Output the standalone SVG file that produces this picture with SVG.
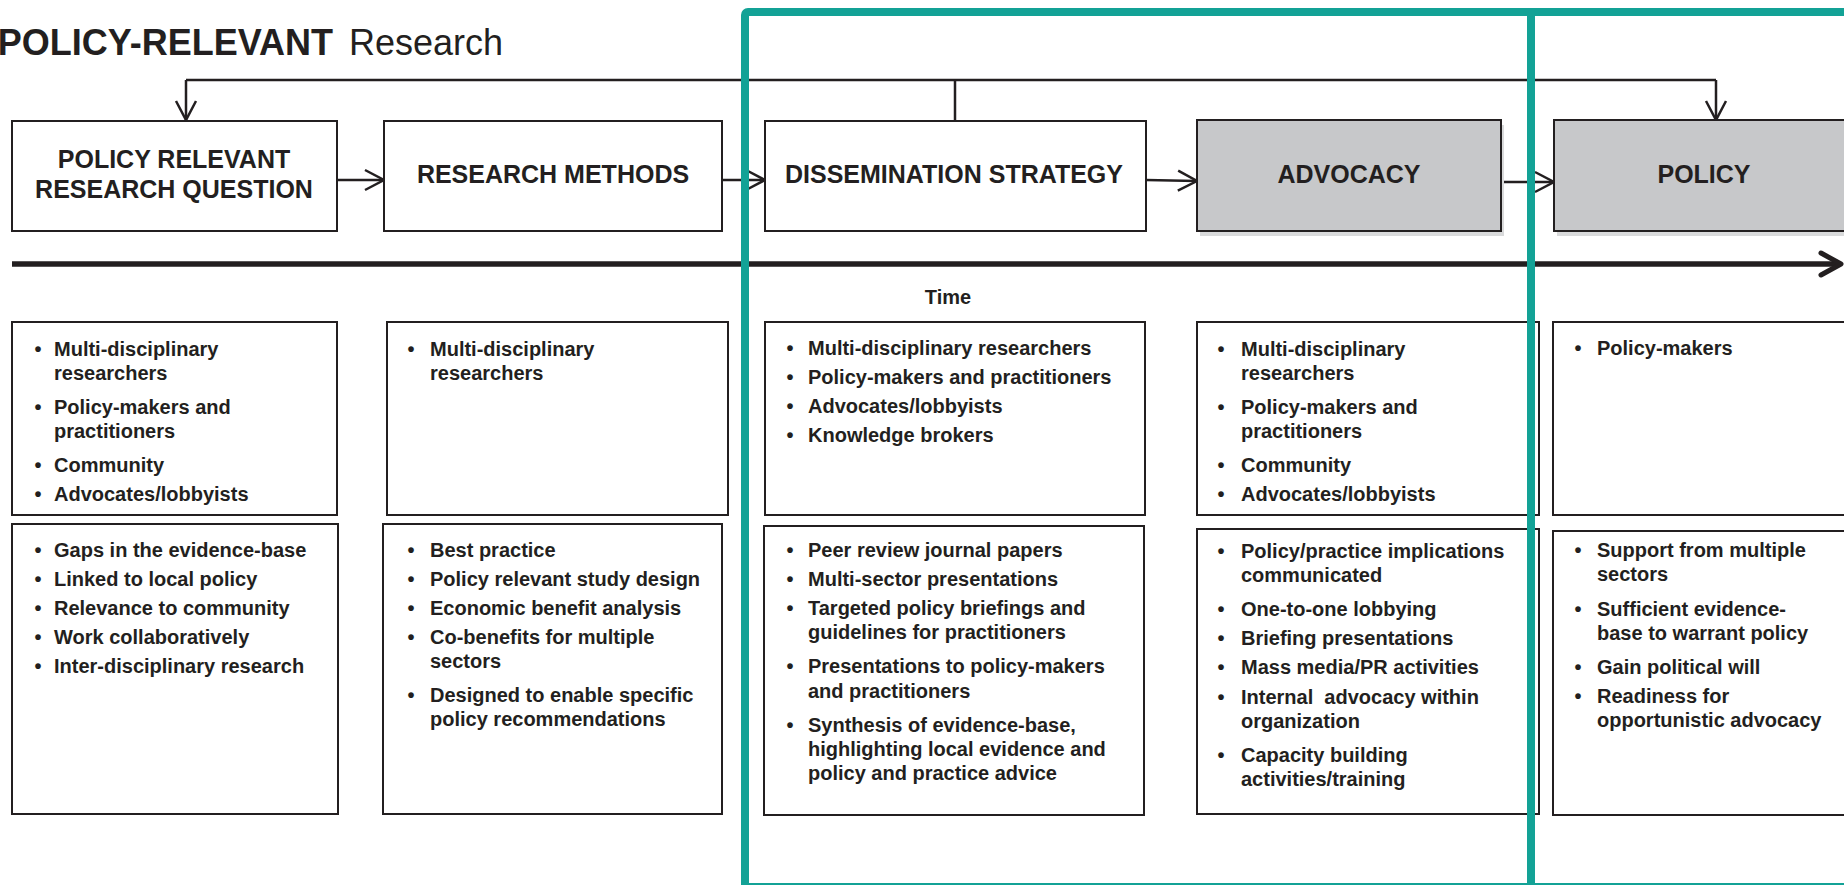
<svg xmlns="http://www.w3.org/2000/svg" width="1844" height="885" viewBox="0 0 1844 885">
<defs>
<style>
.box{fill:#fff;stroke:#231f20;stroke-width:2}
.gbox{fill:#c7c8ca;stroke:#231f20;stroke-width:2}
.shadow{fill:#d9dadb}
.hd{font-family:"Liberation Sans",Arial,sans-serif;font-weight:bold;font-size:25px;fill:#231f20;text-anchor:middle}
.tx{font-family:"Liberation Sans",Arial,sans-serif;font-weight:bold;font-size:20px;fill:#231f20;white-space:pre}
.bl{font-family:"Liberation Sans",Arial,sans-serif;font-weight:bold;font-size:20px;fill:#231f20;text-anchor:middle}
.conn{stroke:#231f20;stroke-width:2.5;fill:none}
.teal{fill:none;stroke:#13a296;stroke-width:8}
</style>
<marker id="ah" markerUnits="userSpaceOnUse" markerWidth="24" markerHeight="24" viewBox="0 0 24 24" refX="21" refY="12" orient="auto">
<path d="M2,2 L21,12 L2,22" fill="none" stroke="#231f20" stroke-width="2.5"/>
</marker>
<marker id="ahb" markerUnits="userSpaceOnUse" markerWidth="30" markerHeight="30" viewBox="0 0 30 30" refX="26" refY="15" orient="auto">
<path d="M6,4 L26,15 L6,26" fill="none" stroke="#231f20" stroke-width="5" stroke-linecap="round" stroke-linejoin="round"/>
</marker>
</defs>
<rect width="1844" height="885" fill="#fff"/>

<g id="title">
<text x="333" y="55" font-family="'Liberation Sans',Arial,sans-serif" font-size="36" font-weight="bold" fill="#231f20" text-anchor="end">POLICY-RELEVANT</text>
<text x="349" y="55" font-family="'Liberation Sans',Arial,sans-serif" font-size="36" fill="#231f20">Research</text>
</g>

<g id="connectors">
<path class="conn" d="M186,80 H1716"/>
<path class="conn" d="M186,80 V120" marker-end="url(#ah)"/>
<path class="conn" d="M1716,80 V120" marker-end="url(#ah)"/>
<path class="conn" d="M955,121 V80"/>
<path class="conn" d="M337,180 H384" marker-end="url(#ah)"/>
<path class="conn" d="M722,180 H765" marker-end="url(#ah)"/>
<path class="conn" d="M1146,180 L1197,181" marker-end="url(#ah)"/>
<path class="conn" d="M1500,182 L1554,182" marker-end="url(#ah)"/>
<path d="M12,264 H1841" stroke="#231f20" stroke-width="5.5" fill="none" marker-end="url(#ahb)"/>
</g>

<g id="time-label">
<text x="948" y="304" class="bl">Time</text>
</g>

<g id="node-question">
<rect class="box" x="12" y="121" width="325" height="110"/>
<text class="hd" x="174" y="168">POLICY RELEVANT</text>
<text class="hd" x="174" y="198">RESEARCH QUESTION</text>
</g>
<g id="node-methods">
<rect class="box" x="384" y="121" width="338" height="110"/>
<text class="hd" x="553" y="183">RESEARCH METHODS</text>
</g>
<g id="node-dissemination">
<rect class="box" x="765" y="121" width="381" height="110"/>
<text class="hd" x="954" y="183">DISSEMINATION STRATEGY</text>
</g>
<g id="node-advocacy">
<rect class="shadow" x="1200" y="125" width="304" height="111"/>
<rect class="gbox" x="1197" y="120" width="304" height="111"/>
<text class="hd" x="1349" y="183">ADVOCACY</text>
</g>
<g id="node-policy">
<rect class="shadow" x="1557" y="125" width="300" height="111"/>
<rect class="gbox" x="1554" y="120" width="300" height="111"/>
<text class="hd" x="1704" y="183">POLICY</text>
</g>

<g id="who-question">
<rect class="box" x="12" y="322" width="325" height="193"/>
<text class="bl" x="38" y="356">•</text><text class="tx" x="54" y="356">Multi-disciplinary</text>
<text class="tx" x="54" y="380">researchers</text>
<text class="bl" x="38" y="414">•</text><text class="tx" x="54" y="414">Policy-makers and</text>
<text class="tx" x="54" y="438">practitioners</text>
<text class="bl" x="38" y="472">•</text><text class="tx" x="54" y="472">Community</text>
<text class="bl" x="38" y="501">•</text><text class="tx" x="54" y="501">Advocates/lobbyists</text>
</g>
<g id="how-question">
<rect class="box" x="12" y="524" width="326" height="290"/>
<text class="bl" x="38" y="557">•</text><text class="tx" x="54" y="557">Gaps in the evidence-base</text>
<text class="bl" x="38" y="586">•</text><text class="tx" x="54" y="586">Linked to local policy</text>
<text class="bl" x="38" y="615">•</text><text class="tx" x="54" y="615">Relevance to community</text>
<text class="bl" x="38" y="644">•</text><text class="tx" x="54" y="644">Work collaboratively</text>
<text class="bl" x="38" y="673">•</text><text class="tx" x="54" y="673">Inter-disciplinary research</text>
</g>

<g id="who-methods">
<rect class="box" x="387" y="322" width="341" height="193"/>
<text class="bl" x="411" y="356">•</text><text class="tx" x="430" y="356">Multi-disciplinary</text>
<text class="tx" x="430" y="380">researchers</text>
</g>
<g id="how-methods">
<rect class="box" x="383" y="524" width="339" height="290"/>
<text class="bl" x="411" y="557">•</text><text class="tx" x="430" y="557">Best practice</text>
<text class="bl" x="411" y="586">•</text><text class="tx" x="430" y="586">Policy relevant study design</text>
<text class="bl" x="411" y="615">•</text><text class="tx" x="430" y="615">Economic benefit analysis</text>
<text class="bl" x="411" y="644">•</text><text class="tx" x="430" y="644">Co-benefits for multiple</text>
<text class="tx" x="430" y="668">sectors</text>
<text class="bl" x="411" y="702">•</text><text class="tx" x="430" y="702">Designed to enable specific</text>
<text class="tx" x="430" y="726">policy recommendations</text>
</g>

<g id="who-dissemination">
<rect class="box" x="765" y="322" width="380" height="193"/>
<text class="bl" x="790" y="355">•</text><text class="tx" x="808" y="355">Multi-disciplinary researchers</text>
<text class="bl" x="790" y="384">•</text><text class="tx" x="808" y="384">Policy-makers and practitioners</text>
<text class="bl" x="790" y="413">•</text><text class="tx" x="808" y="413">Advocates/lobbyists</text>
<text class="bl" x="790" y="442">•</text><text class="tx" x="808" y="442">Knowledge brokers</text>
</g>
<g id="how-dissemination">
<rect class="box" x="764" y="526" width="380" height="289"/>
<text class="bl" x="790" y="557">•</text><text class="tx" x="808" y="557">Peer review journal papers</text>
<text class="bl" x="790" y="586">•</text><text class="tx" x="808" y="586">Multi-sector presentations</text>
<text class="bl" x="790" y="615">•</text><text class="tx" x="808" y="615">Targeted policy briefings and</text>
<text class="tx" x="808" y="639">guidelines for practitioners</text>
<text class="bl" x="790" y="673">•</text><text class="tx" x="808" y="673">Presentations to policy-makers</text>
<text class="tx" x="808" y="698">and practitioners</text>
<text class="bl" x="790" y="732">•</text><text class="tx" x="808" y="732">Synthesis of evidence-base,</text>
<text class="tx" x="808" y="756">highlighting local evidence and</text>
<text class="tx" x="808" y="780">policy and practice advice</text>
</g>

<g id="who-advocacy">
<rect class="box" x="1197" y="322" width="342" height="193"/>
<text class="bl" x="1221" y="356">•</text><text class="tx" x="1241" y="356">Multi-disciplinary</text>
<text class="tx" x="1241" y="380">researchers</text>
<text class="bl" x="1221" y="414">•</text><text class="tx" x="1241" y="414">Policy-makers and</text>
<text class="tx" x="1241" y="438">practitioners</text>
<text class="bl" x="1221" y="472">•</text><text class="tx" x="1241" y="472">Community</text>
<text class="bl" x="1221" y="501">•</text><text class="tx" x="1241" y="501">Advocates/lobbyists</text>
</g>
<g id="how-advocacy">
<rect class="box" x="1197" y="529" width="342" height="285"/>
<text class="bl" x="1221" y="558">•</text><text class="tx" x="1241" y="558">Policy/practice implications</text>
<text class="tx" x="1241" y="582">communicated</text>
<text class="bl" x="1221" y="616">•</text><text class="tx" x="1241" y="616">One-to-one lobbying</text>
<text class="bl" x="1221" y="645">•</text><text class="tx" x="1241" y="645">Briefing presentations</text>
<text class="bl" x="1221" y="674">•</text><text class="tx" x="1241" y="674">Mass media/PR activities</text>
<text class="bl" x="1221" y="704">•</text><text class="tx" x="1241" y="704">Internal  advocacy within</text>
<text class="tx" x="1241" y="728">organization</text>
<text class="bl" x="1221" y="762">•</text><text class="tx" x="1241" y="762">Capacity building</text>
<text class="tx" x="1241" y="786">activities/training</text>
</g>

<g id="who-policy">
<rect class="box" x="1553" y="322" width="305" height="193"/>
<text class="bl" x="1578" y="355">•</text><text class="tx" x="1597" y="355">Policy-makers</text>
</g>
<g id="how-policy">
<rect class="box" x="1553" y="531" width="305" height="284"/>
<text class="bl" x="1578" y="557">•</text><text class="tx" x="1597" y="557">Support from multiple</text>
<text class="tx" x="1597" y="581">sectors</text>
<text class="bl" x="1578" y="616">•</text><text class="tx" x="1597" y="616">Sufficient evidence-</text>
<text class="tx" x="1597" y="640">base to warrant policy</text>
<text class="bl" x="1578" y="674">•</text><text class="tx" x="1597" y="674">Gain political will</text>
<text class="bl" x="1578" y="703">•</text><text class="tx" x="1597" y="703">Readiness for</text>
<text class="tx" x="1597" y="727">opportunistic advocacy</text>
</g>

<g id="highlight">
<rect class="teal" x="745" y="12" width="1115" height="875" rx="3"/>
<path class="teal" d="M1531,12 V887"/>
</g>
</svg>
